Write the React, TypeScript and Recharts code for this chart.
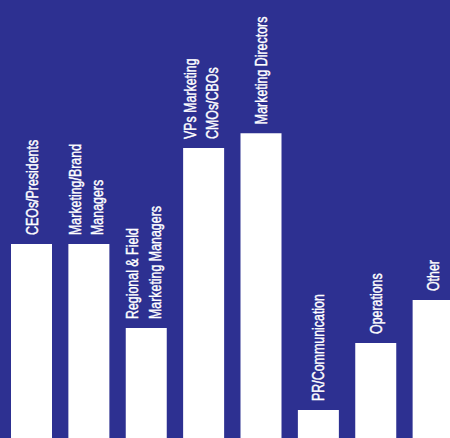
import React from "react";
import { BarChart, Bar, XAxis, YAxis, LabelList } from "recharts";

const categories = [
  "CEOs/Presidents",
  "Marketing/Brand\nManagers",
  "Regional & Field\nMarketing Managers",
  "VPs Marketing\nCMOs/CBOs",
  "Marketing Directors",
  "PR/Communication",
  "Operations",
  "Other",
];
const values = [44.3, 44.3, 25.1, 66.2, 69.6, 6.4, 21.7, 31.5];

const data = categories.map((name, i) => ({ name, value: values[i] }));

const BG = "#2d3091";
const FONT = "'Liberation Sans', Arial, sans-serif";

const renderLabel = (props: any) => {
  const { x, y, width, value } = props;
  const lines = String(value).split("\n");
  const n = lines.length;
  const cx = Number(x) + Number(width) / 2;
  const yb = Number(y) - 9;
  return (
    <g>
      {lines.map((line, i) => {
        const bx = cx + 6 - (n - 1) * 14 + i * 22.5;
        return (
          <text
            key={i}
            x={0}
            y={0}
            transform={`translate(${bx} ${yb}) rotate(-90) scale(0.73 1)`}
            textAnchor="start"
            fill="#ffffff"
            stroke="#ffffff"
            strokeWidth={0.45}
            fontSize={17}
            fontFamily={FONT}
          >
            {line}
          </text>
        );
      })}
    </g>
  );
};

export default function App() {
  return (
    <div
      style={{
        position: "absolute",
        left: 0,
        top: 0,
        width: 450,
        height: 438,
        background: BG,
        overflow: "hidden",
      }}
    >
      <BarChart
        width={462}
        height={438}
        data={data}
        margin={{ top: 0, right: 0, bottom: 0, left: 3 }}
        barSize={41}
      >
        <XAxis dataKey="name" hide />
        <YAxis domain={[0, 100]} hide />
        <Bar dataKey="value" fill="#ffffff" isAnimationActive={false}>
          <LabelList dataKey="name" content={renderLabel} />
        </Bar>
      </BarChart>
    </div>
  );
}
